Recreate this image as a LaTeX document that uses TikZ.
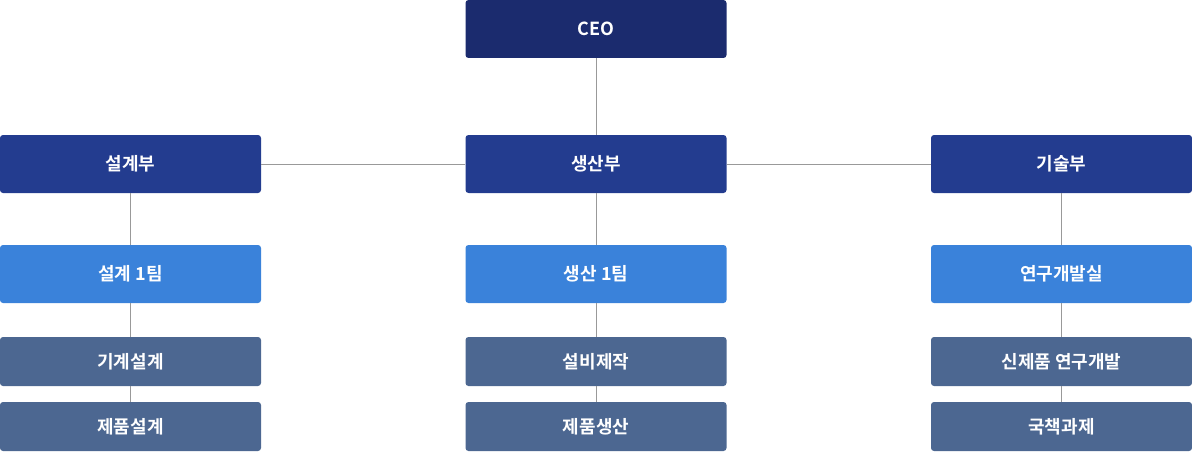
\documentclass[tikz,border=0pt]{standalone}
\usepackage{fontspec}
\newfontfamily\kr{Noto Sans CJK KR}[BoldFont={Noto Sans CJK KR Bold}]
\definecolor{ceoc}{HTML}{1B2B6E}
\definecolor{deptc}{HTML}{233C8F}
\definecolor{teamc}{HTML}{3A82DA}
\definecolor{taskc}{HTML}{4C6791}
\definecolor{linec}{HTML}{999999}
\begin{document}
\begin{tikzpicture}[x=1pt,y=-1pt,
  box/.style={rounded corners=3pt,minimum width=261pt,text=white,font=\kr\bfseries\fontsize{18}{20}\selectfont,inner sep=0pt},
  tall/.style={box,minimum height=58pt},
  short/.style={box,minimum height=49pt},
  conn/.style={draw=linec,line width=0.8pt}]
\useasboundingbox (0,0) rectangle (1192,452);
\node[tall,fill=ceoc] (ceo) at (596,29) {CEO};
\node[tall,fill=deptc] (d1) at (130.5,164) {설계부};
\node[tall,fill=deptc] (d2) at (596,164) {생산부};
\node[tall,fill=deptc] (d3) at (1061.5,164) {기술부};
\node[tall,fill=teamc] (t1) at (130.5,274) {설계 1팀};
\node[tall,fill=teamc] (t2) at (596,274) {생산 1팀};
\node[tall,fill=teamc] (t3) at (1061.5,274) {연구개발실};
\node[short,fill=taskc] (a1) at (130.5,361.5) {기계설계};
\node[short,fill=taskc] (a2) at (596,361.5) {설비제작};
\node[short,fill=taskc] (a3) at (1061.5,361.5) {신제품 연구개발};
\node[short,fill=taskc] (b1) at (130.5,426.5) {제품설계};
\node[short,fill=taskc] (b2) at (596,426.5) {제품생산};
\node[short,fill=taskc] (b3) at (1061.5,426.5) {국책과제};
\draw[conn] (ceo) -- (d2);
\draw[conn] (d1) -- (d2);
\draw[conn] (d2) -- (d3);
\foreach \i in {1,2,3}{
  \draw[conn] (d\i) -- (t\i);
  \draw[conn] (t\i) -- (a\i);
  \draw[conn] (a\i) -- (b\i);
}
\end{tikzpicture}
\end{document}
